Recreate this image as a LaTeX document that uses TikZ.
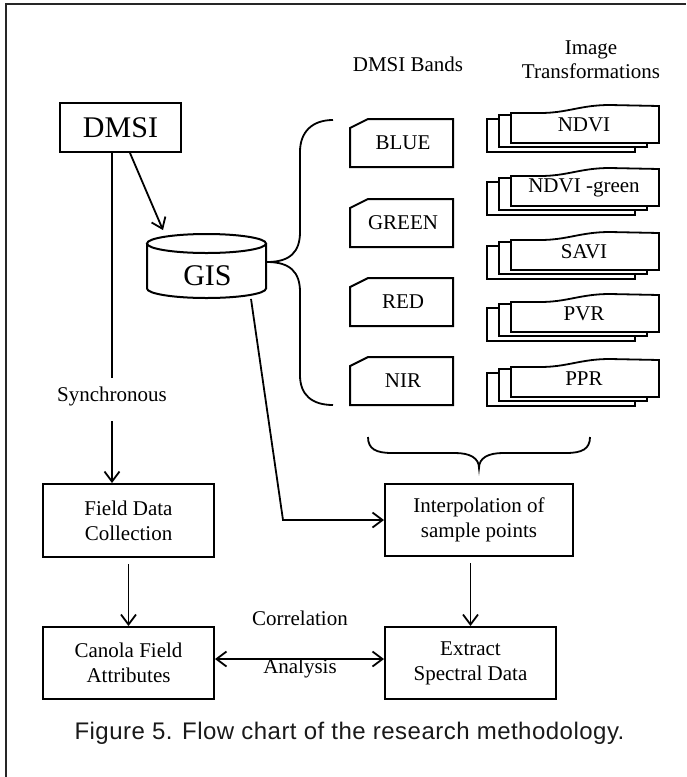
\documentclass[tikz,border=0pt]{standalone}
\usepackage{fontspec}
\setmainfont{Liberation Serif}
\newfontfamily\capfont[LetterSpace=2]{Liberation Sans}
\usetikzlibrary{arrows.meta}
\begin{document}
\begin{tikzpicture}[x=1pt,y=-1pt,line width=1.8pt,
  txt/.style={inner sep=0pt,align=center,font=\fontsize{21}{25}\selectfont},
  box/.style={draw,rectangle,inner sep=0pt,align=center,font=\fontsize{21}{25}\selectfont,line width=2pt},
  big/.style={inner sep=0pt,font=\fontsize{30}{34}\selectfont},
  arr/.style={-{Straight Barb[length=10pt,width=15pt,line width=1.8pt]}},
  darr/.style={{Straight Barb[length=10pt,width=15pt,line width=1.8pt]}-{Straight Barb[length=10pt,width=15pt,line width=1.8pt]}},
  page/.style={draw,fill=white,line width=1.8pt},
  brace/.style={draw,line width=1.8pt}]
\useasboundingbox (0,0) rectangle (686,777);
% frame
\draw[line width=1.6pt,black!85] (6,777) -- (6,4) -- (686,4);

% headers
\node[txt] (hbands) at (408,64) {DMSI Bands};
\node[txt,font=\fontsize{21}{24}\selectfont] (htrans) at (591,60) {Image\\Transformations};

% DMSI
\node[box,big,draw,line width=2pt,minimum width=121pt,minimum height=49pt] (dmsi) at (120.5,127.5) {DMSI};

% GIS cylinder
\draw[line width=2pt,fill=white] (147,243.5) -- (147,288.5) arc[start angle=180,end angle=360,x radius=59.5pt,y radius=9.5pt] -- (266,243.5);
\draw[line width=2pt] (206.5,243.5) ellipse[x radius=59.5pt,y radius=9.5pt];
\node[big,minimum width=119pt,minimum height=64pt] (gis) at (206.5,266) {};
\node[big] (gistext) at (207.5,276) {GIS};

% left brace
\draw[brace] (333,120) .. controls (312,120) and (300,132) .. (300,152) -- (300,232)
  .. controls (300,252) and (290,262) .. (267,262)
  .. controls (290,262) and (300,272) .. (300,292) -- (300,375)
  .. controls (300,395) and (312,405) .. (333,405);

% band boxes
\foreach \t/\lab/\nm in {119/BLUE/blue,199/GREEN/green,278/RED/red,357/NIR/nir}{
  \draw[line width=2pt] (368,\t) -- (453,\t) -- (453,\t+48) -- (350,\t+48) -- (350,\t+9) -- cycle;
  \node[txt] (\nm) at (403,\t+24) {\lab};
}

% transformation stacks
\foreach \b/\lab/\nm in {143/NDVI/ndvi,206/{NDVI -green}/ndvig,270/SAVI/savi,332/PVR/pvr,397/PPR/ppr}{
  \draw[page] (487,\b-24) rectangle (635,\b+9);
  \draw[page] (499,\b-28) rectangle (647,\b+4);
  \draw[page] (511,\b) -- (511,\b-30) -- (540,\b-30) .. controls (568,\b-30) and (580,\b-38) .. (610,\b-38) -- (659,\b-37) -- (659,\b) -- cycle;
  \node[txt] (\nm) at (584,\b-18) {\lab};
}

% bottom brace
\draw[brace] (368,437) .. controls (368,449) and (376,453) .. (392,453) -- (455,453)
  .. controls (470,453) and (479,458) .. (479,468)
  .. controls (479,458) and (488,453) .. (503,453) -- (566,453)
  .. controls (582,453) and (590,449) .. (590,437);

% lower boxes
\node[box,minimum width=171pt,minimum height=73pt] (fdc) at (128.5,520.5) {Field Data\\Collection};
\node[box,minimum width=188pt,minimum height=72pt] (interp) at (479,520) {Interpolation of\\sample points};
\node[box,minimum width=171pt,minimum height=72pt] (canola) at (128.5,663) {Canola Field\\Attributes};
\node[box,minimum width=171pt,minimum height=72pt] (extract) at (470.5,663) {Extract\\Spectral Data};

\node[txt] (sync) at (112,396) {Synchronous};
\node[txt] (corr) at (300,618) {Correlation};
\node[txt] (anal) at (300,668) {Analysis};

% connectors
\draw[arr] ([xshift=9.5pt]dmsi.south) -- ([xshift=-43.5pt,yshift=3pt]gis.north);
\draw (dmsi.south -| sync.north) -- (sync.north) [shorten >=8pt];
\draw[arr,shorten <=15pt] (sync.south) -- (sync.south |- fdc.north);
\coordinate (g1) at ([xshift=44.5pt]gis.south);
\coordinate (g2) at (283,520);
\draw[arr] (g1) -- (g2) -- (interp.west);
\draw[arr,shorten <=6pt] (fdc.south) -- (canola.north);
\draw[arr,shorten <=6pt] (extract.north |- interp.south) -- (extract.north);
\draw[darr] ([yshift=4pt]canola.east) -- ([yshift=4pt]extract.west);

% caption
\node[inner sep=0pt,font=\capfont\fontsize{24}{28}\selectfont,text=black!90] (cap) at (349.5,733) {Figure 5. Flow chart of the research methodology.};
\end{tikzpicture}
\end{document}
